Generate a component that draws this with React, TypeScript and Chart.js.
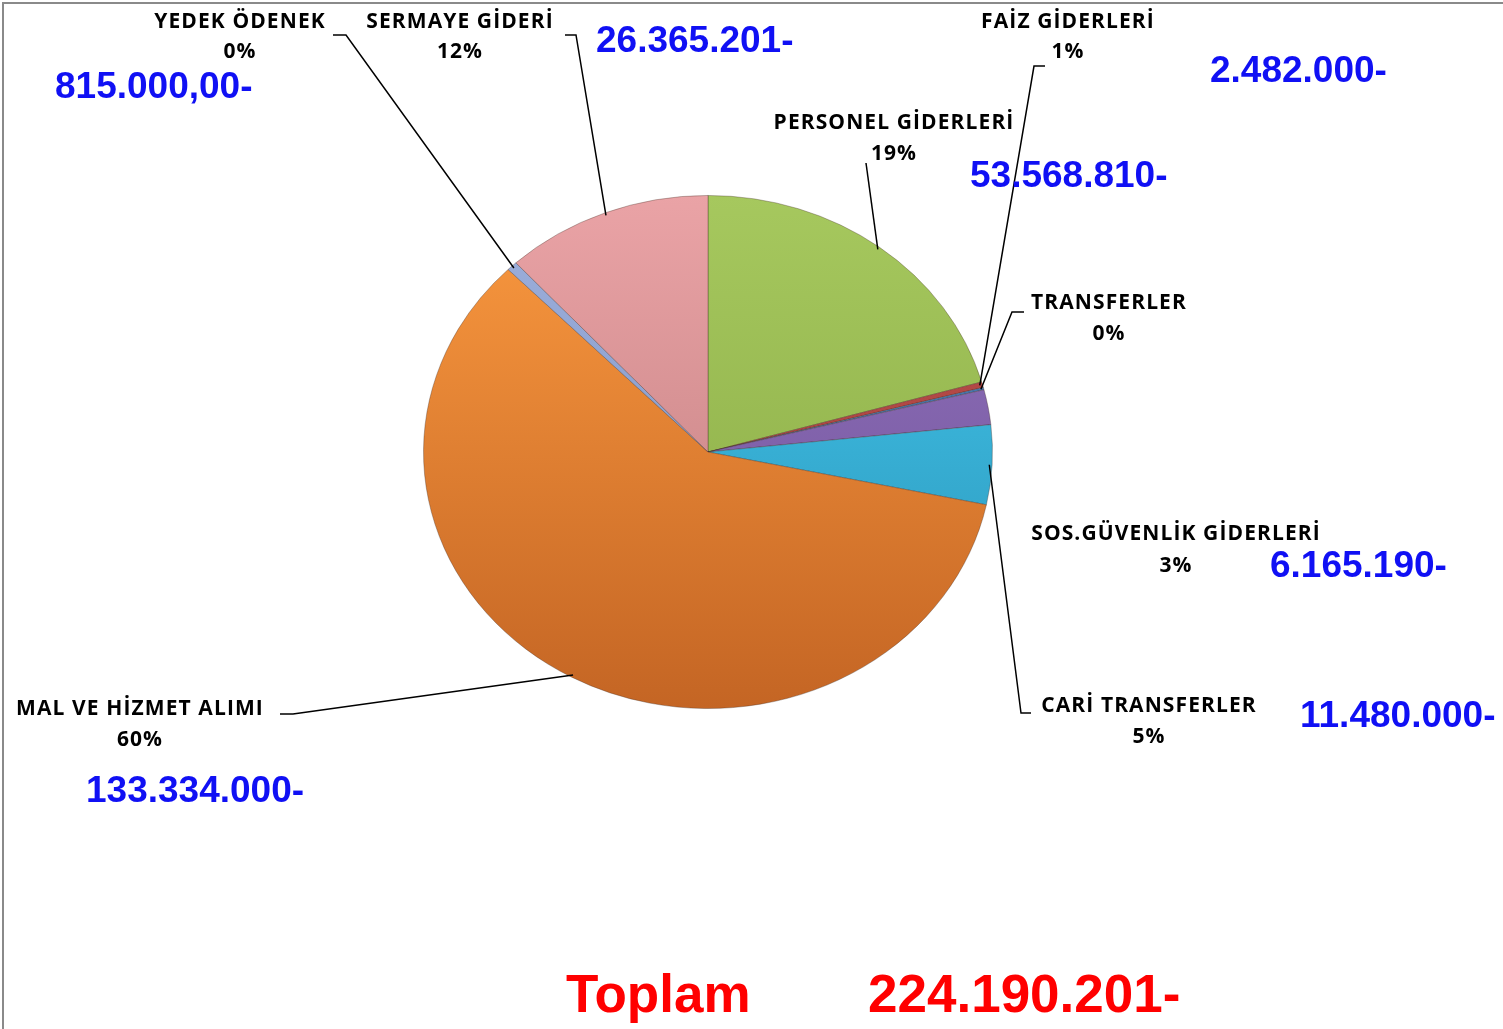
import { useEffect, useRef } from "react";
import { Chart, registerables } from "chart.js";

Chart.register(...registerables);

// ---- data ----
const categories = [
  "PERSONEL GİDERLERİ",
  "FAİZ GİDERLERİ",
  "TRANSFERLER",
  "SOS.GÜVENLİK GİDERLERİ",
  "CARİ TRANSFERLER",
  "MAL VE HİZMET ALIMI",
  "YEDEK ÖDENEK",
  "SERMAYE GİDERİ",
];
const sliceShares = [20.6, 0.35, 0.15, 2.2, 5.0, 59.3, 0.6, 11.8];
const percentLabels = ["19%", "1%", "0%", "3%", "5%", "60%", "0%", "12%"];
const amountLabels = [
  "53.568.810-",
  "2.482.000-",
  "",
  "6.165.190-",
  "11.480.000-",
  "133.334.000-",
  "815.000,00-",
  "26.365.201-",
];
const totalTitle = "Toplam";
const totalAmount = "224.190.201-";

// ---- styling / layout ----
const W = 1503;
const H = 1029;
const SY = 257 / 285; // vertical squash of the pie (tilted look)

const gradStops: [string, string][] = [
  ["#a6c85e", "#88a944"], // green
  ["#c0504d", "#9c3b39"], // red
  ["#4f81bd", "#3a6496"], // blue
  ["#9274bb", "#6e4f9a"], // purple
  ["#44caf0", "#2a92b6"], // cyan
  ["#fb9a40", "#c46524"], // orange
  ["#9db0dc", "#7d90c0"], // lavender
  ["#eaa3a6", "#bd7b7c"], // pink
];

type LabelLayout = {
  cx: number;
  nameY: number;
  pctY: number;
  elbow: [number, number][];
  amountX: number;
  amountY: number;
};
const layout: LabelLayout[] = [
  { cx: 894, nameY: 123, pctY: 154, elbow: [[866, 163]], amountX: 970, amountY: 177 },
  { cx: 1068, nameY: 22, pctY: 52, elbow: [[1045, 66], [1034, 66]], amountX: 1210, amountY: 72 },
  { cx: 1109, nameY: 303, pctY: 334, elbow: [[1024, 312], [1012, 312]], amountX: 0, amountY: 0 },
  { cx: 1176, nameY: 534, pctY: 566, elbow: [], amountX: 1270, amountY: 567 },
  { cx: 1149, nameY: 706, pctY: 737, elbow: [[1031, 713], [1021, 713]], amountX: 1300, amountY: 717 },
  { cx: 140, nameY: 709, pctY: 740, elbow: [[280, 714], [293, 714]], amountX: 86, amountY: 792 },
  { cx: 240, nameY: 22, pctY: 52, elbow: [[333, 35], [346, 35]], amountX: 55, amountY: 88 },
  { cx: 460, nameY: 22, pctY: 52, elbow: [[565, 35], [576, 35]], amountX: 596, amountY: 42 },
];

const squashPlugin = {
  id: "squash",
  beforeDatasetsDraw(chart: any) {
    const a = chart.chartArea;
    const cx = (a.left + a.right) / 2;
    const cy = (a.top + a.bottom) / 2;
    const ctx = chart.ctx;
    ctx.save();
    ctx.translate(cx, cy);
    ctx.scale(1, SY);
    ctx.translate(-cx, -cy);
  },
  afterDatasetsDraw(chart: any) {
    chart.ctx.restore();
  },
};

const annotationPlugin = {
  id: "annotations",
  afterDraw(chart: any) {
    const ctx: CanvasRenderingContext2D = chart.ctx;
    const meta = chart.getDatasetMeta(0);
    ctx.save();
    // frame
    ctx.strokeStyle = "#8a8a8a";
    ctx.lineWidth = 2;
    ctx.strokeRect(3, 3, W + 20, H + 20);

    // leader lines
    ctx.strokeStyle = "#000";
    ctx.lineWidth = 1.5;
    layout.forEach((l, i) => {
      if (!l.elbow.length) return;
      const arc = meta.data[i] as any;
      const mid = (arc.startAngle + arc.endAngle) / 2;
      const r = arc.outerRadius * 0.99;
      const px = arc.x + Math.cos(mid) * r;
      const py = arc.y + Math.sin(mid) * r * SY;
      ctx.beginPath();
      ctx.moveTo(l.elbow[0][0], l.elbow[0][1]);
      for (let k = 1; k < l.elbow.length; k++) ctx.lineTo(l.elbow[k][0], l.elbow[k][1]);
      ctx.lineTo(px, py);
      ctx.stroke();
    });

    // category labels
    ctx.fillStyle = "#000";
    ctx.textAlign = "center";
    ctx.textBaseline = "middle";
    ctx.font = "bold 21px 'Open Sans', 'Noto Sans', sans-serif";
    (ctx as any).letterSpacing = "1.1px";
    layout.forEach((l, i) => {
      ctx.fillText(categories[i], l.cx, l.nameY);
      ctx.fillText(percentLabels[i], l.cx, l.pctY);
    });
    (ctx as any).letterSpacing = "0px";

    // amounts
    ctx.fillStyle = "#1010f4";
    ctx.textAlign = "left";
    ctx.font = "bold 37px 'Liberation Sans', Arial, sans-serif";
    layout.forEach((l, i) => {
      if (!amountLabels[i]) return;
      ctx.fillText(amountLabels[i], l.amountX, l.amountY);
    });

    // total
    ctx.fillStyle = "#ff0000";
    ctx.font = "bold 53px 'Liberation Sans', Arial, sans-serif";
    ctx.fillText(totalTitle, 566, 997);
    ctx.fillText(totalAmount, 868, 997);
    ctx.restore();
  },
};

export default function App() {
  const ref = useRef<HTMLCanvasElement | null>(null);
  useEffect(() => {
    document.body.style.margin = "0";
    document.body.style.background = "#fff";
    const canvas = ref.current!;
    const chart = new Chart(canvas, {
      type: "pie",
      data: {
        labels: categories,
        datasets: [
          {
            data: sliceShares,
            backgroundColor: (c: any) => {
              const ch = c.chart;
              const a = ch.chartArea;
              const stops = gradStops[c.dataIndex % gradStops.length];
              if (!a) return stops[0];
              const g = ch.ctx.createLinearGradient(0, a.top, 0, a.bottom);
              g.addColorStop(0, stops[0]);
              g.addColorStop(1, stops[1]);
              return g;
            },
            borderColor: "rgba(60,40,30,0.35)",
            borderWidth: 1,
          },
        ],
      },
      options: {
        responsive: false,
        animation: false,
        devicePixelRatio: 1,
        layout: { padding: { left: 423, right: 510, top: 167, bottom: 292 } },
        plugins: {
          legend: { display: false },
          tooltip: { enabled: false },
        },
      },
      plugins: [squashPlugin, annotationPlugin],
    });
    return () => chart.destroy();
  }, []);
  return (
    <div style={{ position: "absolute", left: 0, top: 0, width: W, height: H, background: "#fff" }}>
      <canvas ref={ref} width={W} height={H} style={{ display: "block", width: W, height: H }} />
    </div>
  );
}
